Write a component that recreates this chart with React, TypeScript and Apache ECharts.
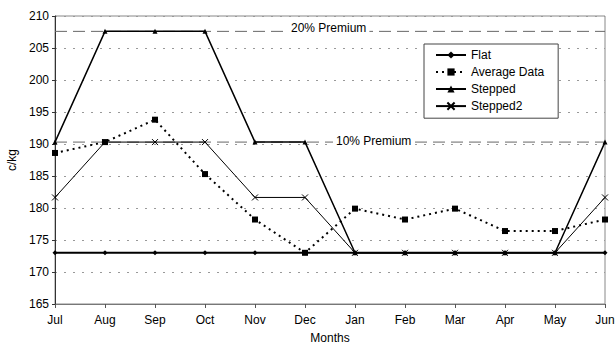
import React, { useEffect, useRef } from "react";
import * as echarts from "echarts";

const months = ["Jul", "Aug", "Sep", "Oct", "Nov", "Dec", "Jan", "Feb", "Mar", "Apr", "May", "Jun"];
const flat = [173, 173, 173, 173, 173, 173, 173, 173, 173, 173, 173, 173];
const averageData = [188.6, 190.3, 193.8, 185.3, 178.2, 173, 179.9, 178.2, 179.9, 176.4, 176.4, 178.2];
const stepped = [190.3, 207.6, 207.6, 207.6, 190.3, 190.3, 173, 173, 173, 173, 173, 190.3];
const stepped2 = [181.65, 190.3, 190.3, 190.3, 181.65, 181.65, 173, 173, 173, 173, 173, 181.65];
const premium20 = 207.6;
const premium10 = 190.3;

const FONT = "'Liberation Sans', Arial, sans-serif";
const CROSS = "path://M0,0L10,10M10,0L0,10";

export default function App() {
  const ref = useRef<HTMLDivElement>(null);

  useEffect(() => {
    if (!ref.current) return;
    const chart = echarts.init(ref.current, null, { renderer: "svg" });
    const flatLine = (v: number) => months.map(() => v);
    chart.setOption({
      animation: false,
      textStyle: { fontFamily: FONT, color: "#000" },
      grid: {
        left: 55,
        right: 11,
        top: 16,
        bottom: 43,
        outerBoundsMode: "none",
        containLabel: false,
        show: true,
        borderColor: "#888",
        borderWidth: 1,
      },
      legend: {
        data: ["Flat", "Average Data", "Stepped", "Stepped2"],
        orient: "vertical",
        left: 424,
        top: 44,
        itemWidth: 30,
        itemHeight: 9,
        itemGap: 5,
        padding: [5, 14, 6, 11],
        borderColor: "#444",
        borderWidth: 1,
        backgroundColor: "#fff",
        textStyle: { fontFamily: FONT, fontSize: 12, color: "#000" },
      },
      xAxis: {
        type: "category",
        data: months,
        boundaryGap: false,
        name: "Months",
        nameLocation: "middle",
        nameGap: 28,
        nameTextStyle: { fontFamily: FONT, fontSize: 12, color: "#000" },
        axisLine: { lineStyle: { color: "#777", width: 1 } },
        axisTick: { show: true, length: 4, lineStyle: { color: "#555" } },
        axisLabel: { fontFamily: FONT, fontSize: 12, color: "#000", margin: 10 },
        splitLine: { show: false },
      },
      yAxis: {
        type: "value",
        min: 165,
        max: 210,
        interval: 5,
        name: "c/kg",
        nameLocation: "middle",
        nameGap: 36,
        nameRotate: 90,
        nameTextStyle: { fontFamily: FONT, fontSize: 12, color: "#000" },
        axisLine: { show: true, lineStyle: { color: "#333", width: 1 } },
        axisTick: { show: true, length: 3, lineStyle: { color: "#333" } },
        axisLabel: { fontFamily: FONT, fontSize: 12, color: "#000", margin: 6 },
        splitLine: { show: true, lineStyle: { color: "#999", type: [2, 7], width: 1 } },
      },
      graphic: [
        {
          type: "text",
          left: 288,
          top: 22,
          style: { text: "20% Premium", font: `12px ${FONT}`, fill: "#000", backgroundColor: "#fff", padding: [0, 3] },
          z: 100,
        },
        {
          type: "text",
          left: 333,
          top: 135,
          style: { text: "10% Premium", font: `12px ${FONT}`, fill: "#000", backgroundColor: "#fff", padding: [0, 3] },
          z: 100,
        },
      ],
      series: [
        {
          name: "20% Premium",
          type: "line",
          data: flatLine(premium20),
          symbol: "none",
          silent: true,
          lineStyle: { color: "#666", width: 1, type: [12, 6] },
          z: 1,
        },
        {
          name: "10% Premium",
          type: "line",
          data: flatLine(premium10),
          symbol: "none",
          silent: true,
          lineStyle: { color: "#666", width: 1, type: [12, 6] },
          z: 1,
        },
        {
          name: "Flat",
          type: "line",
          data: flat,
          symbol: "diamond",
          symbolSize: 5,
          lineStyle: { color: "#000", width: 2 },
          itemStyle: { color: "#000" },
          z: 5,
        },
        {
          name: "Average Data",
          type: "line",
          data: averageData,
          symbol: "rect",
          symbolSize: 6,
          lineStyle: { color: "#000", width: 2, type: [2, 4] },
          itemStyle: { color: "#000" },
          z: 4,
        },
        {
          name: "Stepped",
          type: "line",
          data: stepped,
          symbol: "triangle",
          symbolSize: 5,
          lineStyle: { color: "#000", width: 1.5 },
          itemStyle: { color: "#000" },
          z: 3,
        },
        {
          name: "Stepped2",
          type: "line",
          data: stepped2,
          symbol: CROSS,
          symbolSize: 6,
          lineStyle: { color: "#000", width: 1 },
          itemStyle: { color: "none", borderColor: "#000", borderWidth: 1 },
          z: 3,
        },
      ],
    });
    return () => chart.dispose();
  }, []);

  return (
    <div
      ref={ref}
      style={{ position: "absolute", left: 0, top: 0, width: 616, height: 347, background: "#fff" }}
    />
  );
}
